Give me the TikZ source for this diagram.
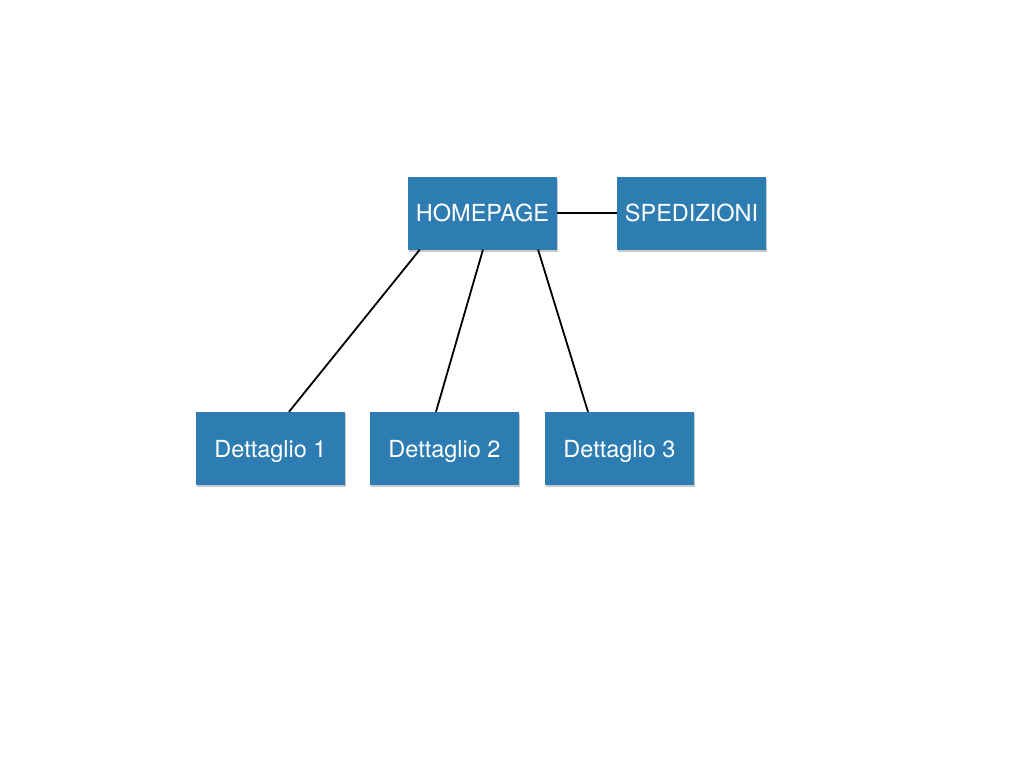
\documentclass[tikz,border=0pt]{standalone}
\usepackage{fontspec}
\setmainfont{TeX Gyre Heros}
\usetikzlibrary{calc,shadows}
\definecolor{boxblue}{HTML}{2E7DB2}
\begin{document}
\begin{tikzpicture}[x=1pt,y=-1pt,
  box/.style={fill=boxblue, draw=none, minimum width=149pt, minimum height=73pt, inner sep=0pt,
    text=white, font=\fontsize{23.5}{26}\selectfont, text depth=-4.5pt,
    drop shadow={shadow xshift=0.5pt, shadow yshift=-2pt, opacity=0.3, fill=black!70}},
  link/.style={draw=black, line width=1.8pt}]
\useasboundingbox (0,0) rectangle (1024,768);
\fill[white] (0,0) rectangle (1024,768);
\node[box] (home) at (482.5,213) {HOMEPAGE};
\node[box] (sped) at (691.5,213) {SPEDIZIONI};
\node[box] (d1) at (270.5,448.5) {Dettaglio 1};
\node[box] (d2) at (444.5,448.5) {Dettaglio 2};
\node[box] (d3) at (619.5,448.5) {Dettaglio 3};
\draw[link] (home.east) -- (sped.west);
\draw[link] ($(home.south west)!0.08!(home.south east)$) -- ($(d1.north west)!0.624!(d1.north east)$);
\draw[link] ($(home.south west)!0.503!(home.south east)$) -- ($(d2.north west)!0.443!(d2.north east)$);
\draw[link] ($(home.south west)!0.872!(home.south east)$) -- ($(d3.north west)!0.289!(d3.north east)$);
\end{tikzpicture}
\end{document}
